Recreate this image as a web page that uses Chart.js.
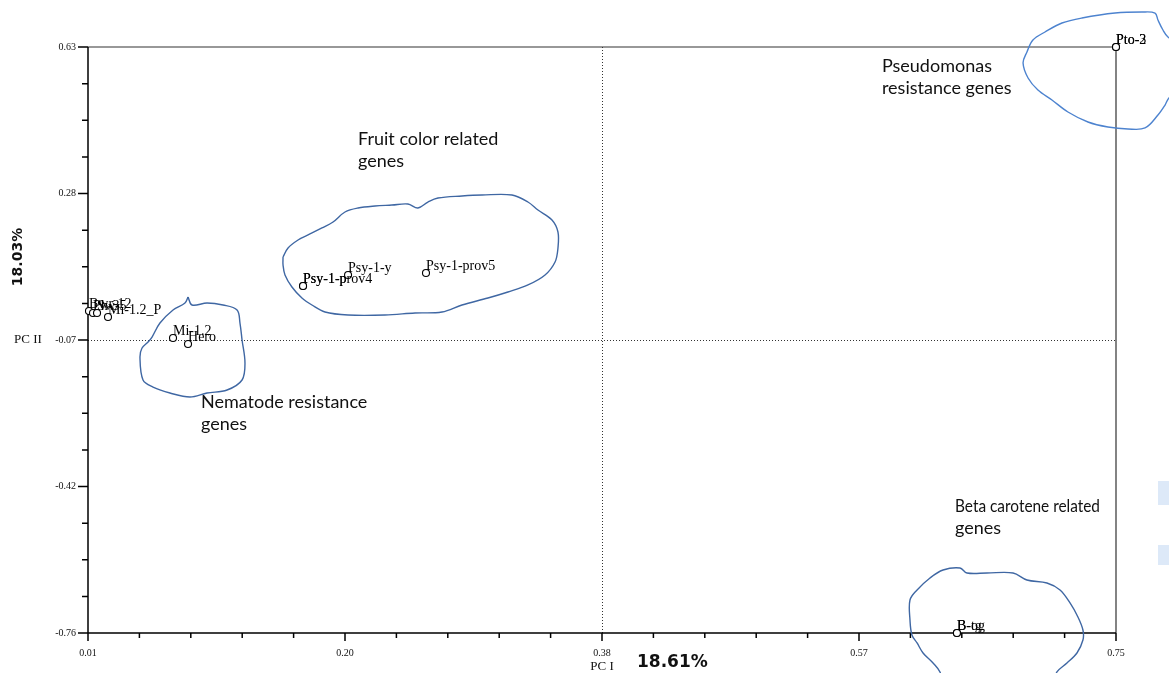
<!DOCTYPE html>
<html>
<head>
<meta charset="utf-8">
<script src="https://cdn.jsdelivr.net/npm/chart.js@4.4.0/dist/chart.umd.min.js"></script>
<style>
html, body { margin: 0; padding: 0; background: #fff; }
#pca { display: block; }
</style>
</head>
<body>
<canvas id="pca" width="1169" height="673"></canvas>
<script>
// genes and their PCA scores
const geneNames = ['Bwr-12', 'Ph-3', 'Sw-5', 'Mi-1.2_P', 'Mi-1.2', 'Hero',
    'Psy-1-prov4', 'Psy-1-p', 'Psy-1-y', 'Psy-1-prov5', 'Pto-2', 'Pto-3', 'B-og', 'B-tg'];
const pc1 = [0.0107, 0.0136, 0.0165, 0.0244, 0.0712, 0.0820,
    0.1648, 0.1648, 0.1972, 0.2533, 0.75, 0.75, 0.6355, 0.6355];
const pc2 = [0.0038, -0.0010, -0.0010, -0.0104, -0.0603, -0.0745,
    0.0631, 0.0631, 0.0892, 0.0939, 0.63, 0.63, -0.76, -0.76];

// axis ticks
const xMajorTicks = [0.01, 0.195, 0.38, 0.565, 0.75];
const xTickLabels = ['0.01', '0.20', '0.38', '0.57', '0.75'];
const yMajorTicks = [-0.76, -0.4125, -0.065, 0.2825, 0.63];
const yTickLabels = ['-0.76', '-0.42', '-0.07', '0.28', '0.63'];

// hand drawn outlines around the groups (in PC units)
const fruitHull = [[0.1504, 0.1319], [0.1540, 0.1532], [0.1612, 0.1722], [0.1684, 0.1841], [0.1784, 0.2007],
    [0.1864, 0.2149], [0.1950, 0.2386], [0.2044, 0.2481], [0.2166, 0.2529], [0.2288, 0.2552], [0.2403, 0.2576],
    [0.2475, 0.2481], [0.2547, 0.2623], [0.2619, 0.2718], [0.2792, 0.2766], [0.2936, 0.2789], [0.3152, 0.2789],
    [0.3267, 0.2623], [0.3339, 0.2434], [0.3440, 0.2196], [0.3483, 0.1912], [0.3483, 0.1532], [0.3462, 0.1200],
    [0.3390, 0.0892], [0.3267, 0.0655], [0.3123, 0.0489], [0.2979, 0.0346], [0.2792, 0.0180], [0.2648, 0.0014],
    [0.2454, -0.0010], [0.2238, -0.0057], [0.1972, -0.0057], [0.1806, 0.0014], [0.1712, 0.0180], [0.1640, 0.0346],
    [0.1568, 0.0607], [0.1518, 0.0892], [0.1504, 0.1129], [0.1504, 0.1319]];
const nematodeHull = [[0.0820, 0.0370], [0.0849, 0.0180], [0.0957, 0.0228], [0.1072, 0.0180], [0.1173, 0.0062],
    [0.1194, -0.0247], [0.1209, -0.0650], [0.1230, -0.1196], [0.1209, -0.1599], [0.1101, -0.1836], [0.0957, -0.1907],
    [0.0834, -0.2002], [0.0690, -0.1907], [0.0568, -0.1765], [0.0496, -0.1599], [0.0474, -0.1053], [0.0489, -0.0840],
    [0.0532, -0.0697], [0.0561, -0.0579], [0.0618, -0.0247], [0.0712, 0.0062], [0.0798, 0.0228], [0.0820, 0.0370]];
const pseudomonasHull = [[0.7961, 0.6347], [0.7874, 0.6537], [0.7838, 0.6703], [0.7802, 0.6940], [0.7781, 0.7106],
    [0.7687, 0.7130], [0.7493, 0.7106], [0.7255, 0.6988], [0.7111, 0.6869], [0.6989, 0.6656], [0.6902, 0.6466],
    [0.6859, 0.6181], [0.6831, 0.5920], [0.6867, 0.5565], [0.6938, 0.5280], [0.7039, 0.5043], [0.7154, 0.4758],
    [0.7298, 0.4521], [0.7442, 0.4402], [0.7586, 0.4355], [0.7709, 0.4379], [0.7802, 0.4687], [0.7853, 0.4924],
    [0.7881, 0.5090], [0.7961, 0.5280]];
const betaHull = [[0.6269, -0.8952], [0.6233, -0.8525], [0.6183, -0.8312], [0.6111, -0.8074], [0.6068, -0.7837],
    [0.6031, -0.7647], [0.6017, -0.7292], [0.6017, -0.6817], [0.6068, -0.6580], [0.6161, -0.6295], [0.6255, -0.6106],
    [0.6377, -0.6058], [0.6427, -0.6177], [0.6571, -0.6177], [0.6759, -0.6177], [0.6859, -0.6343], [0.7003, -0.6414],
    [0.7097, -0.6580], [0.7169, -0.6888], [0.7226, -0.7220], [0.7262, -0.7529], [0.7262, -0.7766], [0.7219, -0.8074],
    [0.7147, -0.8312], [0.7075, -0.8525], [0.7025, -0.8952]];

// group notes
const notes = [
    { lines: ['Fruit color related', 'genes'], x: 0.2044, y: 0.3975 },
    { lines: ['Pseudomonas', 'resistance genes'], x: 0.5815, y: 0.5707 },
    { lines: ['Nematode resistance', 'genes'], x: 0.0913, y: -0.2263 },
    { lines: ['Beta carotene related', 'genes'], x: 0.6341, y: -0.4730, fit: 145 }
];

function makeTicks(majors, labels, minorPerGap) {
    const out = [];
    for (let i = 0; i < majors.length; i++) {
        out.push({ value: majors[i], lbl: labels[i], major: true });
        if (i < majors.length - 1) {
            const step = (majors[i + 1] - majors[i]) / (minorPerGap + 1);
            for (let k = 1; k <= minorPerGap; k++) {
                out.push({ value: majors[i] + step * k, lbl: '', major: false });
            }
        }
    }
    return out;
}

function hullDataset(points, color) {
    return {
        type: 'line',
        data: points.map(p => ({ x: p[0], y: p[1] })),
        borderColor: color,
        borderWidth: 1.4,
        pointRadius: 0,
        tension: 0.35,
        fill: false,
        clip: false
    };
}

const pcaFrame = {
    id: 'pcaFrame',
    beforeDatasetsDraw(chart) {
        const { ctx, chartArea: a, scales: { x, y } } = chart;
        ctx.save();
        // faint marks at the right edge
        ctx.fillStyle = '#dde9f8';
        ctx.fillRect(1158, 481, 11, 24);
        ctx.fillRect(1158, 545, 11, 20);

        ctx.strokeStyle = '#333';
        ctx.lineWidth = 1;
        ctx.setLineDash([1, 2]);
        const cx = Math.round(x.getPixelForValue(xMajorTicks[2])) + 0.5;
        const cy = Math.round(y.getPixelForValue(yMajorTicks[2])) + 0.5;
        ctx.beginPath();
        ctx.moveTo(cx, a.top); ctx.lineTo(cx, a.bottom);
        ctx.moveTo(a.left, cy); ctx.lineTo(a.right, cy);
        ctx.stroke();
        ctx.setLineDash([]);

        // top and right edges
        ctx.strokeStyle = '#333';
        ctx.lineWidth = 1.2;
        ctx.beginPath();
        ctx.moveTo(a.left, a.top); ctx.lineTo(a.right, a.top); ctx.lineTo(a.right, a.bottom);
        ctx.stroke();

        // axis lines and tick marks
        ctx.strokeStyle = '#000';
        ctx.lineWidth = 1.5;
        ctx.beginPath();
        ctx.moveTo(a.left, a.top); ctx.lineTo(a.left, a.bottom); ctx.lineTo(a.right, a.bottom);
        x.ticks.forEach(t => {
            const px = x.getPixelForValue(t.value);
            ctx.moveTo(px, a.bottom); ctx.lineTo(px, a.bottom + (t.major ? 8 : 5));
        });
        y.ticks.forEach(t => {
            const py = y.getPixelForValue(t.value);
            ctx.moveTo(a.left, py); ctx.lineTo(a.left - (t.major ? 10 : 6), py);
        });
        ctx.stroke();
        ctx.restore();
    },
    afterDatasetsDraw(chart) {
        const { ctx, chartArea: a, scales: { x, y } } = chart;
        ctx.save();
        // point labels
        ctx.fillStyle = '#000';
        ctx.font = '14px "Liberation Serif", "Times New Roman", serif';
        ctx.textAlign = 'left';
        ctx.textBaseline = 'alphabetic';
        const meta = chart.getDatasetMeta(0);
        meta.data.forEach((pt, i) => {
            ctx.fillText(geneNames[i], pt.x, pt.y - 3);
        });

        // group notes
        ctx.font = '18px Lato, "Open Sans", sans-serif';
        ctx.fillStyle = '#111';
        notes.forEach(n => {
            const px = x.getPixelForValue(n.x);
            const py = y.getPixelForValue(n.y);
            n.lines.forEach((line, k) => {
                if (n.fit && k === 0) ctx.fillText(line, px, py + k * 22, n.fit);
                else ctx.fillText(line, px, py + k * 22);
            });
        });

        // axis titles
        ctx.font = '13px "Liberation Serif", serif';
        ctx.textBaseline = 'middle';
        ctx.textAlign = 'left';
        ctx.fillText('PC II', 14, y.getPixelForValue(yMajorTicks[2]));
        ctx.textAlign = 'center';
        ctx.fillText('PC I', x.getPixelForValue(xMajorTicks[2]), 667);

        ctx.font = 'bold 17px "DejaVu Sans", sans-serif';
        ctx.textAlign = 'left';
        ctx.fillText('18.61%', 637, 663);
        ctx.font = 'bold 14px "DejaVu Sans", sans-serif';
        ctx.translate(18, 257);
        ctx.rotate(-Math.PI / 2);
        ctx.textAlign = 'center';
        ctx.fillText('18.03%', 0, 0);
        ctx.restore();
    }
};

const pcaConfig = {
    type: 'scatter',
    data: {
        datasets: [
            {
                data: geneNames.map((n, i) => ({ x: pc1[i], y: pc2[i] })),
                pointRadius: 3.5,
                pointBorderWidth: 1.1,
                pointBackgroundColor: '#fff',
                pointBorderColor: '#000',
                clip: false,
                order: 0
            },
            hullDataset(fruitHull, '#3f67a3'),
            hullDataset(nematodeHull, '#3f67a3'),
            hullDataset(pseudomonasHull, '#4d83cf'),
            hullDataset(betaHull, '#3f67a3')
        ]
    },
    options: {
        responsive: false,
        animation: false,
        layout: {
            padding: { top: 47, right: 53, left: 0, bottom: 0 }
        },
        plugins: {
            legend: { display: false },
            tooltip: { enabled: false }
        },
        scales: {
            x: {
                type: 'linear',
                min: 0.01,
                max: 0.75,
                grid: { display: false, drawTicks: false },
                border: { display: false },
                afterBuildTicks: s => { s.ticks = makeTicks(xMajorTicks, xTickLabels, 4); },
                afterFit: s => { s.height = 40; },
                ticks: {
                    autoSkip: false,
                    maxRotation: 0,
                    padding: 14,
                    color: '#111',
                    font: { family: 'Liberation Serif', size: 10 },
                    callback: (v, i, ticks) => ticks[i].lbl
                }
            },
            y: {
                type: 'linear',
                min: -0.76,
                max: 0.63,
                grid: { display: false, drawTicks: false },
                border: { display: false },
                afterBuildTicks: s => { s.ticks = makeTicks(yMajorTicks, yTickLabels, 3); },
                afterFit: s => { s.width = 88; },
                ticks: {
                    autoSkip: false,
                    padding: 12,
                    color: '#111',
                    font: { family: 'Liberation Serif', size: 10 },
                    callback: (v, i, ticks) => ticks[i].lbl
                }
            }
        }
    },
    plugins: [pcaFrame]
};

const pcaChart = new Chart(document.getElementById('pca'), pcaConfig);
</script>
</body>
</html>
